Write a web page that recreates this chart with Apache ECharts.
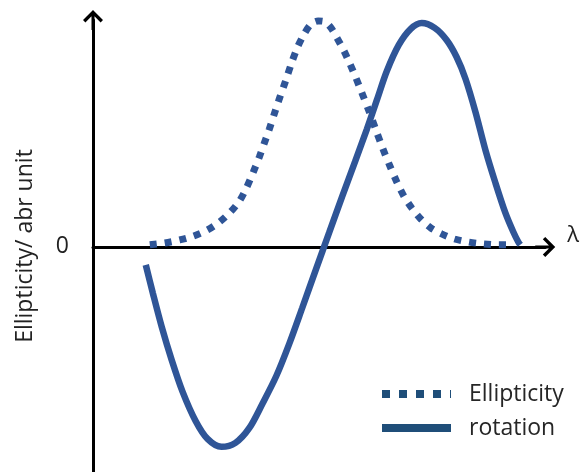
<!DOCTYPE html>
<html>
<head>
<meta charset="utf-8">
<title>Ellipticity and rotation</title>
<script src="https://cdn.jsdelivr.net/npm/echarts@6/dist/echarts.min.js"></script>
<style>
  html, body { margin: 0; padding: 0; background: #ffffff; }
  #chart { width: 582px; height: 472px; }
</style>
</head>
<body>
<div id="chart"></div>
<script>
// Wavelength positions (arbitrary units) and signal values (arbitrary units)
const ellipticityLambda = [12.56, 15.86, 19.16, 22.25, 25.33, 27.97, 30.40, 32.38, 33.92, 35.46, 36.78, 37.89, 38.99, 40.09, 41.19, 42.51, 43.83, 45.15, 46.70, 48.24, 49.78, 51.32, 52.64, 53.96, 55.51, 56.83, 58.15, 59.47, 61.01, 62.56, 64.10, 65.64, 67.18, 68.72, 70.48, 72.47, 74.67, 77.09, 79.96, 83.04, 86.34, 89.65, 92.95];
const ellipticityValues = [0.009, 0.017, 0.030, 0.047, 0.073, 0.107, 0.150, 0.197, 0.253, 0.322, 0.386, 0.446, 0.506, 0.571, 0.635, 0.708, 0.785, 0.854, 0.914, 0.957, 0.970, 0.966, 0.940, 0.897, 0.841, 0.785, 0.725, 0.661, 0.584, 0.502, 0.421, 0.348, 0.279, 0.219, 0.167, 0.120, 0.082, 0.056, 0.034, 0.021, 0.013, 0.009, 0.009];

const rotationLambda = [11.67, 13.22, 15.20, 17.40, 19.82, 22.69, 25.33, 28.41, 31.50, 34.58, 37.44, 40.53, 43.39, 46.26, 49.34, 52.20, 55.07, 57.93, 60.57, 62.78, 64.98, 67.62, 70.26, 72.69, 75.55, 78.19, 80.40, 82.38, 84.58, 86.78, 88.99, 91.19, 92.95, 94.05, 94.49];
const rotationValues = [-0.077, -0.197, -0.343, -0.485, -0.622, -0.747, -0.824, -0.858, -0.841, -0.777, -0.674, -0.554, -0.416, -0.262, -0.094, 0.060, 0.215, 0.365, 0.506, 0.631, 0.755, 0.867, 0.936, 0.961, 0.940, 0.888, 0.815, 0.721, 0.579, 0.416, 0.275, 0.146, 0.064, 0.021, 0.009];

const yTickLabels = [0];
const seriesNames = ['Ellipticity', 'rotation'];

const pairs = (xs, ys) => xs.map((x, i) => [x, ys[i]]);

// Open chevron arrow head with a short stem that overlaps the axis line
const arrowHead = 'path://M10 0 L20 10 L17.6 12.4 L11.5 6.3 L11.5 20 L8.5 20 L8.5 6.3 L2.4 12.4 L0 10 Z';

const FONT = '"Open Sans", sans-serif';
const BLUE = '#2f5597';
const LEGEND_BLUE = '#1f4e79';

const chart = echarts.init(document.getElementById('chart'), null, { renderer: 'canvas' });

chart.setOption({
  backgroundColor: '#ffffff',
  animation: false,
  grid: { left: 93, right: 35, top: 20, bottom: 0, containLabel: false },
  legend: {
    orient: 'vertical',
    left: 373,
    top: 377,
    itemWidth: 69,
    itemHeight: 14,
    itemGap: 10,
    itemStyle: { opacity: 0 },
    textStyle: {
      fontFamily: FONT, fontSize: 23, color: '#262626',
      lineHeight: 24, padding: [0, 0, 0, 13]
    },
    data: [
      { name: seriesNames[0], lineStyle: { color: LEGEND_BLUE, width: 8, type: [8, 9], cap: 'butt' } },
      { name: seriesNames[1], lineStyle: { color: LEGEND_BLUE, width: 8, type: 'solid', cap: 'butt' } }
    ]
  },
  xAxis: {
    type: 'value',
    min: 0,
    max: 100,
    name: 'λ',
    nameLocation: 'end',
    nameGap: 22,
    nameTextStyle: { fontFamily: FONT, fontSize: 22, color: '#222', verticalAlign: 'bottom' },
    axisLine: {
      show: true,
      onZero: true,
      symbol: ['none', arrowHead],
      symbolSize: [20, 20],
      lineStyle: { color: '#000', width: 3 }
    },
    axisTick: { show: false },
    axisLabel: { show: false },
    splitLine: { show: false }
  },
  yAxis: {
    type: 'value',
    min: -0.966,
    max: 0.974,
    name: 'Ellipticity/ abr unit',
    nameLocation: 'middle',
    nameRotate: 90,
    nameGap: 56,
    nameTextStyle: { fontFamily: FONT, fontSize: 23, color: '#222' },
    axisLine: {
      show: true,
      onZero: true,
      symbol: ['none', arrowHead],
      symbolSize: [20, 20],
      lineStyle: { color: '#000', width: 3 }
    },
    axisTick: { show: false },
    axisLabel: {
      show: true,
      customValues: yTickLabels,
      margin: 24,
      fontFamily: FONT,
      fontSize: 23,
      color: '#222',
      formatter: v => String(v)
    },
    splitLine: { show: false }
  },
  series: [
    {
      name: seriesNames[0],
      type: 'line',
      data: pairs(ellipticityLambda, ellipticityValues),
      smooth: 0.3,
      symbol: 'none',
      clip: false,
      lineStyle: { color: BLUE, width: 7, type: [7, 8], cap: 'butt' },
      itemStyle: { color: BLUE },
      z: 3
    },
    {
      name: seriesNames[1],
      type: 'line',
      data: pairs(rotationLambda, rotationValues),
      smooth: 0.3,
      symbol: 'none',
      clip: false,
      lineStyle: { color: BLUE, width: 6.5, cap: 'butt' },
      itemStyle: { color: BLUE },
      z: 4
    }
  ]
});
</script>
</body>
</html>
